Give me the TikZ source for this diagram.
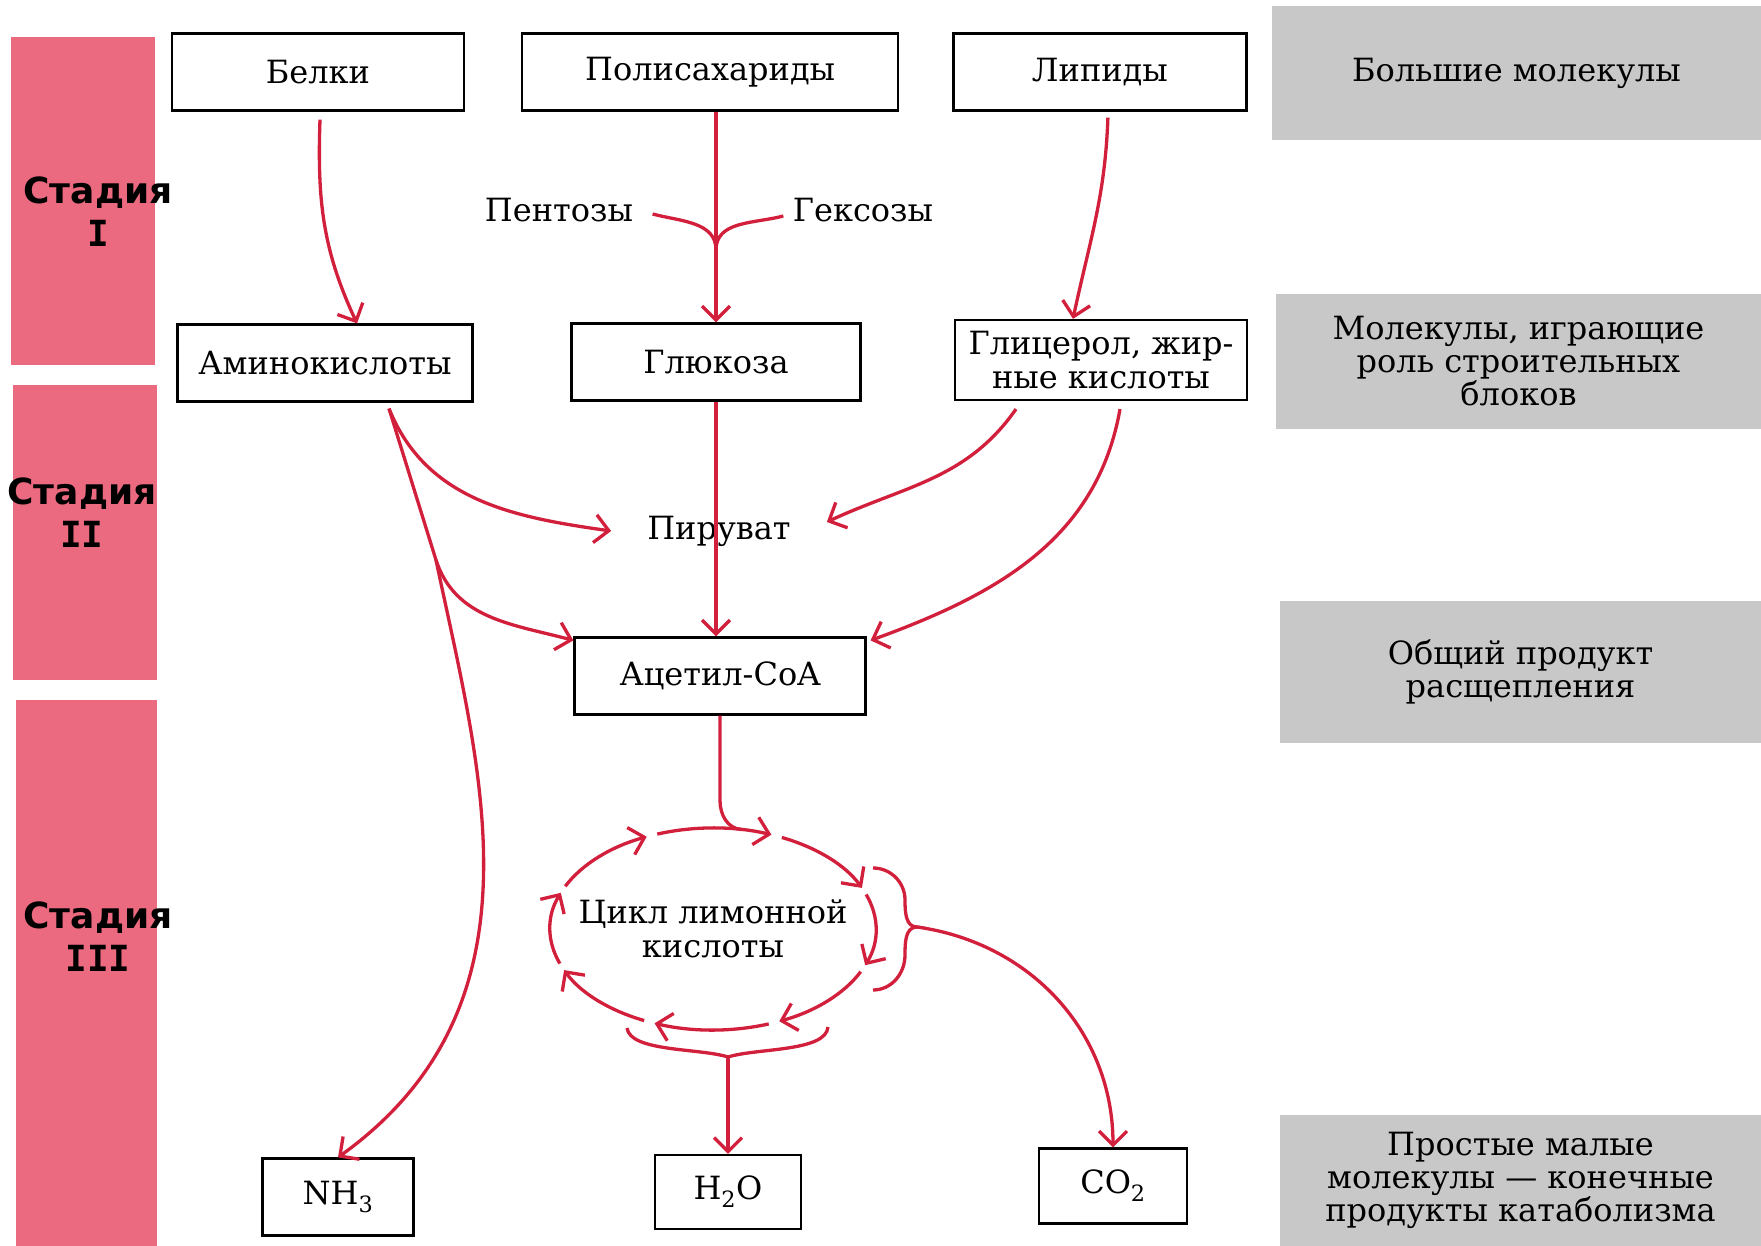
\documentclass[tikz,border=0pt]{standalone}
\usepackage{fontspec}
\setmainfont{DejaVu Serif}
\newfontfamily\stagefont{DejaVu Sans}
\newfontfamily\romanfont{DejaVu Sans Mono}
\usepackage{tikz}
\usetikzlibrary{arrows.meta,positioning,calc}
\definecolor{pathRed}{HTML}{D21F3C}
\definecolor{stagePink}{HTML}{EC6A80}
\definecolor{tierGray}{HTML}{C8C8C8}

\begin{document}
\begin{tikzpicture}[
  x=1pt, y=1pt,
  font=\fontsize{32}{34}\selectfont,
  box/.style={draw, line width=2.2pt, align=center, minimum height=77pt, inner sep=4pt},
  tier/.style={fill=tierGray, align=center, font=\fontsize{32}{33}\selectfont},
  stage/.style={align=center, font=\stagefont\bfseries\fontsize{36}{43}\selectfont},
  line/.style={draw=pathRed, line width=3.3pt},
  arr/.style={line, -{Straight Barb[length=14pt,width=28pt]}}
]
\useasboundingbox (0,0) rectangle (1761,-1246);
% stage bars
\fill[stagePink] (11,-37) rectangle (155,-365);
\fill[stagePink] (13,-385) rectangle (157,-680);
\fill[stagePink] (16,-700) rectangle (157,-1246);
\node[stage] (st1) at (98,-212) {Стадия\\{\romanfont I}};
\node[stage] (st2) at (82,-513) {Стадия\\{\romanfont II}};
\node[stage] (st3) at (98,-937) {Стадия\\{\romanfont III}};
% right column
\node[tier, minimum width=489pt, minimum height=134pt] (big) at (1516.5,-73) {Большие молекулы};
\node[tier, minimum width=485pt, minimum height=135pt] (blocks) at (1518.5,-361.5) {Молекулы, играющие\\роль строительных\\блоков};
\node[tier, minimum width=481pt, minimum height=142pt] (common) at (1520.5,-672) {Общий продукт\\расщепления};
\node[tier, minimum width=481pt, minimum height=131pt] (final) at (1520.5,-1180.5) {Простые малые\\молекулы --- конечные\\продукты катаболизма};

\node[box, minimum width=292pt] (prot) at (318,-72) {Белки};
\node[box, minimum width=376pt, right=56pt of prot] (poly) {Полисахариды};
\node[box, minimum width=293pt, right=53pt of poly] (lipid) {Липиды};
\node (pent) at (559,-210) {Пентозы};
\node (hex) at (863,-210) {Гексозы};
\node[box, minimum width=295pt] (amino) at (325,-363) {Аминокислоты};
\node[box, minimum width=289pt] (gluc) at (716,-362) {Глюкоза};
\node[box, minimum width=292pt, minimum height=80pt] (glyc) at (1101,-360) {Глицерол, жир-\\ные кислоты};
\node[inner xsep=36pt] (pyr) at (719,-531) {Пируват};
\node[box, minimum width=291pt] (acoa) at (720,-676) {Ацетил-CoA};
\node[align=center] (tca) at (713,-929) {Цикл лимонной\\кислоты};
\node[box, minimum width=151pt] (nh3) at (338,-1197) {NH\textsubscript{3}};
\node[box, minimum width=146pt, minimum height=74pt] (h2o) at (728,-1192) {H\textsubscript{2}O};
\node[box, minimum width=148pt, minimum height=75pt] (co2) at (1113,-1186) {CO\textsubscript{2}};

% stage I
\coordinate (merge) at (716,-250);
\draw[arr] ([xshift=2pt,yshift=-8pt]prot.south) to[out=-92,in=115] ([xshift=32pt]amino.north);
\draw[arr] (gluc.north |- poly.south) -- (gluc.north);
\draw[line] ([xshift=16pt,yshift=-4pt]pent.east) to[out=-15,in=90] (merge);
\draw[line] ([xshift=-6pt,yshift=-6pt]hex.west) to[out=195,in=90] (merge);
\draw[arr] ([xshift=8pt,yshift=-6pt]lipid.south) to[out=-92,in=78] ([xshift=-28pt]glyc.north);
% stage II
\coordinate (aminoOut) at ([xshift=64pt,yshift=-6pt]amino.south);
\coordinate (fork) at (436,-560);
\draw[arr] (gluc.south) -- (gluc.south |- acoa.north);
\draw[arr] ([xshift=-85pt,yshift=-8pt]glyc.south) to[out=-125,in=25] ([yshift=9pt]pyr.east);
\draw[arr] ([xshift=19pt,yshift=-8pt]glyc.south) to[out=-100,in=20] ([xshift=4pt,yshift=-4pt]acoa.north east);
\draw[arr] (aminoOut) to[out=-68,in=172] (pyr.west);
\draw[arr] (fork) to[out=-72,in=165] ([yshift=-4pt]acoa.north west);
\draw[arr] (aminoOut) -- (fork) .. controls (480,-770) and (550,-1005) .. (nh3.north);
% stage III
\draw[line] (acoa.south) -- ++(0,-85) to[out=-90,in=175] ($(tca)+(80:163 and 101)$);
\foreach \a in {110,65,...,-205}
  \draw[arr] ($(tca)+(\a:163 and 101)$) arc[start angle=\a, end angle=\a-41, x radius=163, y radius=101];
\coordinate (rbtip) at (917,-927);
\coordinate (bbtip) at (728,-1057);
\draw[line] (873,-868) to[out=0,in=90] (905,-900) to[out=-90,in=180] (rbtip)
  to[out=180,in=90] (905,-955) to[out=-90,in=0] (873,-990);
\draw[arr] (rbtip) to[out=-8,in=90] (co2.north);
\draw[line] (627,-1028) .. controls (630,-1052) and (700,-1048) .. (bbtip)
  .. controls (756,-1048) and (826,-1052) .. (828,-1027);
\draw[arr] (bbtip) -- (h2o.north);
\end{tikzpicture}
\end{document}
